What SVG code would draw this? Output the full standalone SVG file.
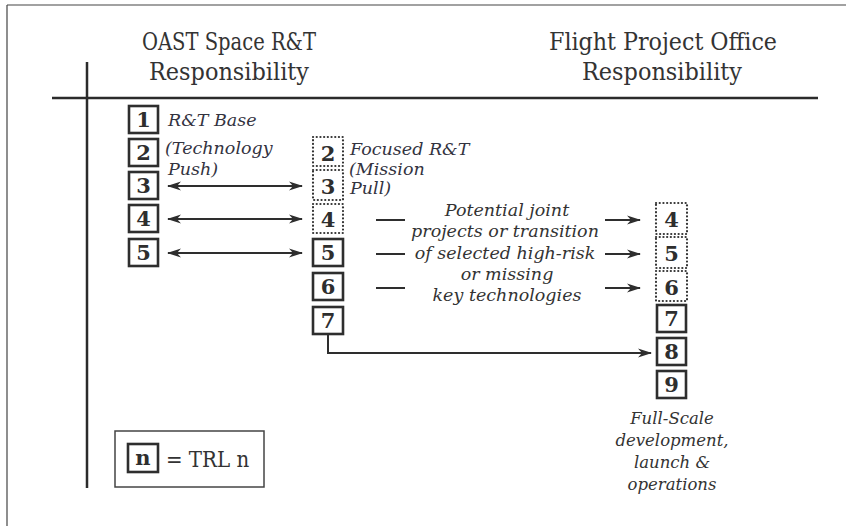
<svg xmlns="http://www.w3.org/2000/svg" width="846" height="526" viewBox="0 0 846 526">
<defs>
<style>
.frame{stroke:#444;stroke-width:1.2;fill:none}
.rule{stroke:#2b2b2b;stroke-width:2.5;fill:none}
.box{fill:#fff;stroke:#2e2e2e;stroke-width:2.6}
.dot{fill:none;stroke:#333;stroke-width:2.2;stroke-dasharray:0.1 3.6;stroke-linecap:round}
.num{font-family:"DejaVu Serif",serif;font-weight:bold;font-size:21px;fill:#2e2e2e;text-anchor:middle}
.hdr{font-family:"DejaVu Serif",serif;font-stretch:condensed;font-size:24px;fill:#333;text-anchor:middle}
.it{font-family:"DejaVu Serif",serif;font-style:italic;font-size:17.5px;fill:#33333f}
.itc{font-family:"DejaVu Serif",serif;font-style:italic;font-size:17.5px;fill:#333;text-anchor:middle}
.leg{font-family:"DejaVu Serif",serif;font-stretch:condensed;font-size:22px;fill:#333}
.conn{stroke:#2e2e2e;stroke-width:2;fill:none}
</style>
<marker id="ah" viewBox="0 0 14 10" refX="13" refY="5" markerWidth="14" markerHeight="10" markerUnits="userSpaceOnUse" orient="auto-start-reverse">
<path d="M0,0.5 L14,5 L0,9.5 L4,5 Z" fill="#2e2e2e"/>
</marker>
</defs>
<g id="frame">
<line class="frame" x1="7" y1="5" x2="846" y2="5"/>
<line class="frame" x1="7" y1="5" x2="7" y2="526"/>
</g>
<g id="rules">
<line class="rule" x1="87" y1="62" x2="87" y2="488"/>
<line class="rule" x1="52" y1="98" x2="818" y2="98"/>
</g>
<g id="headers">
<text class="hdr" x="229" y="50" textLength="174" lengthAdjust="spacingAndGlyphs">OAST Space R&amp;T</text>
<text class="hdr" x="229" y="80" textLength="160" lengthAdjust="spacingAndGlyphs">Responsibility</text>
<text class="hdr" x="663" y="50" textLength="228" lengthAdjust="spacingAndGlyphs">Flight Project Office</text>
<text class="hdr" x="662" y="80" textLength="160" lengthAdjust="spacingAndGlyphs">Responsibility</text>
</g>
<g id="left-column">
<g id="L1"><rect class="box" x="129" y="106" width="29" height="27"/><text class="num" x="143.5" y="127">1</text></g>
<g id="L2"><rect class="box" x="129" y="139" width="29" height="27"/><text class="num" x="143.5" y="160">2</text></g>
<g id="L3"><rect class="box" x="129" y="172" width="29" height="27"/><text class="num" x="143.5" y="193">3</text></g>
<g id="L4"><rect class="box" x="129" y="205" width="29" height="27"/><text class="num" x="143.5" y="226">4</text></g>
<g id="L5"><rect class="box" x="129" y="239" width="29" height="27"/><text class="num" x="143.5" y="260">5</text></g>
<g id="L-label">
<text class="it" x="168" y="126">R&amp;T Base</text>
<text class="it" x="165" y="154">(Technology</text>
<text class="it" x="168" y="175">Push)</text>
</g>
</g>
<g id="middle-column">
<g id="M2"><rect class="dot" x="313" y="137" width="30" height="29"/><text class="num" x="328" y="161">2</text></g>
<g id="M3"><rect class="dot" x="313" y="170" width="30" height="30"/><text class="num" x="328" y="194">3</text></g>
<g id="M4"><rect class="dot" x="313" y="204" width="30" height="29"/><text class="num" x="328" y="227">4</text></g>
<g id="M5"><rect class="box" x="313" y="239" width="30" height="27"/><text class="num" x="328" y="260">5</text></g>
<g id="M6"><rect class="box" x="313" y="273" width="30" height="27"/><text class="num" x="328" y="294">6</text></g>
<g id="M7"><rect class="box" x="313" y="307" width="30" height="27"/><text class="num" x="328" y="328">7</text></g>
<g id="M-label">
<text class="it" x="350" y="155">Focused R&amp;T</text>
<text class="it" x="349" y="175">(Mission</text>
<text class="it" x="350" y="194">Pull)</text>
</g>
</g>
<g id="right-column">
<g id="R4"><rect class="dot" x="656" y="203" width="31" height="31"/><text class="num" x="671.5" y="227">4</text></g>
<g id="R5"><rect class="dot" x="656" y="237" width="31" height="31"/><text class="num" x="671.5" y="261">5</text></g>
<g id="R6"><rect class="dot" x="656" y="271" width="31" height="30"/><text class="num" x="671.5" y="295">6</text></g>
<g id="R7"><rect class="box" x="657" y="305" width="29" height="27"/><text class="num" x="671.5" y="326">7</text></g>
<g id="R8"><rect class="box" x="657" y="338" width="29" height="27"/><text class="num" x="671.5" y="359">8</text></g>
<g id="R9"><rect class="box" x="657" y="371" width="29" height="27"/><text class="num" x="671.5" y="392">9</text></g>
<g id="R-label">
<text class="itc" x="672" y="424" style="font-size:16.5px">Full-Scale</text>
<text class="itc" x="672" y="446" style="font-size:16.5px">development,</text>
<text class="itc" x="672" y="468" style="font-size:16.5px">launch &amp;</text>
<text class="itc" x="672" y="490" style="font-size:16.5px">operations</text>
</g>
</g>
<g id="middle-label">
<text class="itc" x="507" y="216">Potential joint</text>
<text class="itc" x="505" y="237">projects or transition</text>
<text class="itc" x="505" y="259">of selected high-risk</text>
<text class="itc" x="507" y="280">or missing</text>
<text class="itc" x="507" y="301">key technologies</text>
</g>
<g id="connectors">
<line class="conn" x1="168" y1="186" x2="302" y2="186" marker-start="url(#ah)" marker-end="url(#ah)"/>
<line class="conn" x1="168" y1="219" x2="302" y2="219" marker-start="url(#ah)" marker-end="url(#ah)"/>
<line class="conn" x1="168" y1="253" x2="302" y2="253" marker-start="url(#ah)" marker-end="url(#ah)"/>
<line class="conn" x1="376" y1="220" x2="405" y2="220"/>
<line class="conn" x1="376" y1="254" x2="405" y2="254"/>
<line class="conn" x1="376" y1="288" x2="405" y2="288"/>
<line class="conn" x1="605" y1="220" x2="640" y2="220" marker-end="url(#ah)"/>
<line class="conn" x1="605" y1="254" x2="640" y2="254" marker-end="url(#ah)"/>
<line class="conn" x1="605" y1="288" x2="640" y2="288" marker-end="url(#ah)"/>
<polyline class="conn" points="328,334 328,353 651,353" marker-end="url(#ah)"/>
</g>
<g id="legend">
<rect x="115" y="431" width="149" height="56" fill="none" stroke="#444" stroke-width="1.5"/>
<rect class="box" x="128" y="444" width="30" height="28"/>
<text class="num" x="143" y="465">n</text>
<text class="leg" x="166" y="467">= TRL n</text>
</g>
</svg>
